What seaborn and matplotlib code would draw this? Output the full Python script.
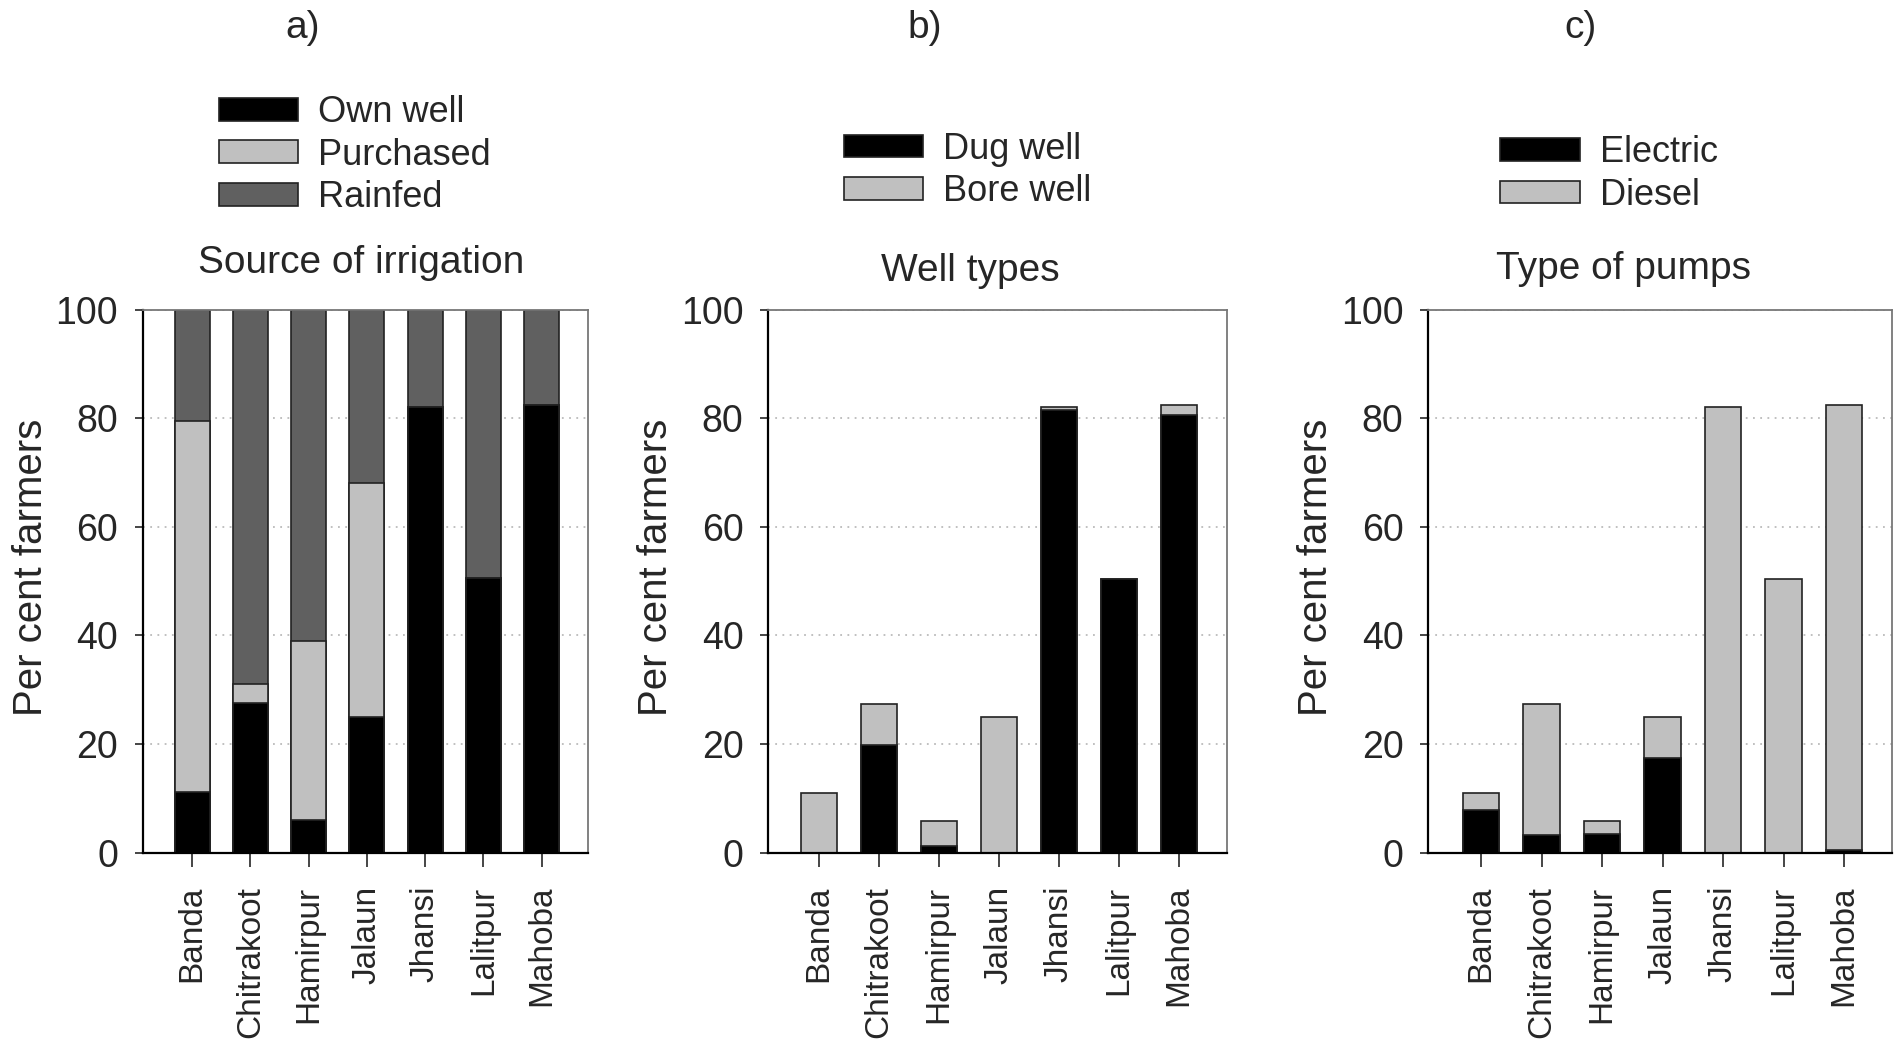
import matplotlib
matplotlib.use('Agg')
import matplotlib.pyplot as plt
import seaborn as sns
import pandas as pd
from matplotlib.patches import Patch

districts = ['Banda', 'Chitrakoot', 'Hamirpur', 'Jalaun', 'Jhansi', 'Lalitpur', 'Mahoba']

# a) source of irrigation (% farmers)
own_well = [11.1, 27.5, 6.0, 25.0, 82.0, 50.5, 82.5]
purchased = [68.4, 3.5, 33.0, 43.0, 0.0, 0.0, 0.0]
rainfed = [20.5, 69.0, 61.0, 32.0, 18.0, 49.5, 17.5]

# b) well types
dug_well = [0.0, 19.9, 1.2, 0.0, 81.6, 50.4, 80.7]
bore_well = [10.9, 7.4, 4.6, 24.9, 0.4, 0.0, 1.7]

# c) type of pumps
electric = [7.9, 3.2, 3.5, 17.4, 0.0, 0.0, 0.4]
diesel = [3.0, 24.1, 2.3, 7.5, 82.0, 50.4, 82.0]

BLACK = '#000000'
LIGHT = '#c0c0c0'
DARK = '#606060'

sns.set_theme(style='white')
plt.rcParams['font.family'] = ['Liberation Sans', 'DejaVu Sans']


def stacked(ax, layers, colors):
    # draw cumulative totals from the top down so lower layers sit in front
    df = pd.DataFrame({'district': districts})
    cum = [0.0] * len(districts)
    tots = []
    for vals in layers:
        cum = [c + v for c, v in zip(cum, vals)]
        tots.append(cum)
    for tot, col in reversed(list(zip(tots, colors))):
        df['v'] = tot
        sns.barplot(data=df, x='district', y='v', color=col, width=0.6,
                    edgecolor='#222222', linewidth=1.2, saturation=1, ax=ax)
    ax.set_ylim(0, 100)
    ax.set_xlim(-0.84, 6.8)
    ax.set_yticks([0, 20, 40, 60, 80, 100])
    ax.yaxis.grid(True, linestyle=(0, (1, 3)), color='#bbbbbb', linewidth=1.3)
    ax.set_axisbelow(True)
    ax.set_xlabel('')
    ax.set_ylabel('Per cent farmers', fontsize=29, labelpad=4, y=0.525)
    ax.tick_params(axis='y', labelsize=27, left=True, length=6, width=1.2, pad=12)
    ax.tick_params(axis='x', labelsize=24, bottom=True, length=10, width=1.2,
                   rotation=90, pad=14)
    for s in ['left', 'bottom']:
        ax.spines[s].set_color('black')
        ax.spines[s].set_linewidth(1.6)
    for s in ['top', 'right']:
        ax.spines[s].set_color('#777777')
        ax.spines[s].set_linewidth(1.3)
    return [Patch(facecolor=c, edgecolor='#222222', linewidth=1.2) for c in colors]


def add_legend(ax, handles, labels, anchor):
    ax.legend(handles, labels, loc='upper left', bbox_to_anchor=anchor,
              frameon=False, fontsize=26, handlelength=2.2, handleheight=0.6,
              labelspacing=0.2, borderpad=0, borderaxespad=0, handletextpad=0.55)


fig = plt.figure(figsize=(19.02, 10.5), dpi=100)
ax_a = fig.add_axes([0.0753, 0.188, 0.234, 0.517])
ax_b = fig.add_axes([0.404, 0.188, 0.241, 0.517])
ax_c = fig.add_axes([0.751, 0.188, 0.244, 0.517])

h = stacked(ax_a, [own_well, purchased, rainfed], [BLACK, LIGHT, DARK])
add_legend(ax_a, h, ['Own well', 'Purchased', 'Rainfed'], (0.17, 1.395))
ax_a.set_title('Source of irrigation', fontsize=28, x=0.49, y=1.052)

h = stacked(ax_b, [dug_well, bore_well], [BLACK, LIGHT])
add_legend(ax_b, h, ['Dug well', 'Bore well'], (0.165, 1.328))
ax_b.set_title('Well types', fontsize=28, x=0.44, y=1.037)

h = stacked(ax_c, [electric, diesel], [BLACK, LIGHT])
ax_c.set_xlim(-0.87, 6.8)
add_legend(ax_c, h, ['Electric', 'Diesel'], (0.155, 1.321))
ax_c.set_title('Type of pumps', fontsize=28, x=0.42, y=1.042)

fig.text(0.159, 0.973, 'a)', fontsize=28, ha='center', va='center')
fig.text(0.486, 0.973, 'b)', fontsize=28, ha='center', va='center')
fig.text(0.831, 0.973, 'c)', fontsize=28, ha='center', va='center')

fig.savefig('out.png', dpi=100, facecolor='white')
